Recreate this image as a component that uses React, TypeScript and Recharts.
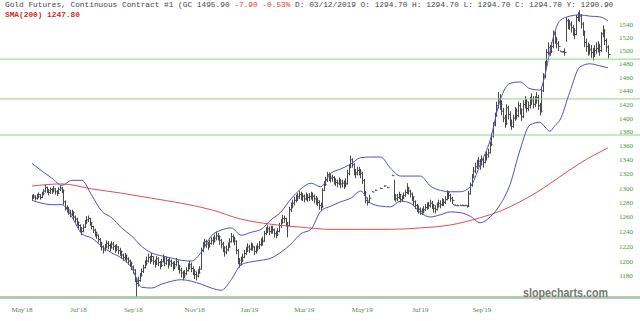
import { ComposedChart, XAxis, YAxis, Bar, Line, ReferenceLine } from "recharts";

// daily bars, index 0 = first bar on the chart (null = no bar that day)
const closes = [
  1287, 1289, 1286, 1288, 1291, 1287, 1292, 1296, 1301, 1297,
  1294, 1298, 1296, 1299, 1295, 1293, 1298, 1300, 1297, 1281,
  1273, 1270, 1268, 1264, 1266, 1260, 1257, 1252, 1248, 1244,
  1240, 1246, 1253, 1256, 1258, 1252, 1247, 1242, 1238, 1235,
  1229, 1224, 1219, 1215, 1219, 1224, 1221, 1218, 1223, 1220,
  1216, 1219, 1214, 1213, 1208, 1205, 1207, 1203, 1200, 1197,
  1192, 1188, 1176, 1170, 1174, 1181, 1186, 1191, 1197, 1200,
  1205, 1201, 1206, 1199, 1196, 1203, 1198, 1194, 1199, 1204,
  1197, 1201, 1195, 1200, 1197, 1192, 1195, 1199, 1193, 1188,
  1184, 1180, 1183, 1187, 1192, 1195, 1190, 1186, 1182, 1180,
  1184, 1189, 1214, 1222, 1226, 1223, 1220, 1224, 1228, 1227,
  1231, 1234, 1233, 1228, 1223, 1218, 1212, 1215, 1219, 1226,
  1233, 1230, 1227, 1214, 1201, 1196, 1200, 1205, 1210, 1214,
  1219, 1216, 1220, 1219, 1213, 1216, 1219, 1222, 1226, 1227,
  1237, 1241, 1244, 1240, 1243, 1242, 1237, 1236, 1240, 1248,
  1252, 1258, 1258, 1252, 1248, 1270, 1275, 1279, 1283, 1286,
  1288, 1291, 1289, 1288, 1285, 1289, 1287, 1288, 1290, 1288,
  1285, 1283, 1280, 1276, 1274, 1297, 1305, 1312, 1319, 1316,
  1314, 1315, 1311, 1308, 1307, 1310, 1306, 1307, 1305, 1307,
  1321, 1330, 1340, 1333, 1322, 1320, 1325, 1324, 1321, 1311,
  1294, 1283, 1280, 1286, null, 1295, null, 1297, null, null,
  1300, null, 1303, null, 1301, null, null, 1318, 1290, 1285,
  1287, 1291, 1284, 1286, 1290, 1294, 1300, 1296, 1292, 1288,
  1281, 1276, 1272, 1270, 1268, 1267, 1270, 1273, 1275, 1276,
  1279, 1276, 1272, 1270, 1275, 1279, 1277, 1281, 1280, 1284,
  1294, 1290, 1286, 1283, 1277, 1276, 1276, null, 1276, 1276,
  1276, 1276, 1275, 1292, 1304, 1316, 1324, 1330, 1335, 1338,
  1334, 1340, 1336, 1343, 1347, 1350, 1362, 1374, 1390, 1404,
  1418, 1428, 1420, 1410, 1400, 1392, 1415, 1405, 1394, 1388,
  1400, 1410, 1404, 1418, 1412, 1402, 1420, 1424, 1414, 1418,
  1425, 1428, 1420, 1426, 1430, 1418, 1410, 1440, 1462, 1478,
  1497, 1504, 1498, 1506, 1525, 1516, 1510, 1506, 1499, 1498,
  1498, 1497, 1545, 1538, 1540, 1535, 1530, 1524, 1550, 1553,
  1552, 1540, 1528, 1512, 1506, 1500, 1502, 1497, 1494, 1500,
  1503, 1506, 1500, 1525, 1530, 1515, 1505, 1494,
];

const highs = [
  1291, 1292, 1290, 1292, 1294, 1292, 1295, 1299, 1305, 1302,
  1299, 1301, 1300, 1303, 1300, 1297, 1301, 1304, 1302, 1298,
  1283, 1276, 1274, 1270, 1270, 1268, 1262, 1259, 1254, 1250,
  1246, 1250, 1256, 1261, 1262, 1259, 1253, 1248, 1244, 1240,
  1236, 1231, 1226, 1221, 1223, 1228, 1227, 1224, 1227, 1226,
  1222, 1223, 1220, 1218, 1214, 1210, 1211, 1209, 1205, 1202,
  1199, 1194, 1189, 1178, 1179, 1184, 1190, 1195, 1201, 1206,
  1210, 1207, 1211, 1207, 1202, 1207, 1205, 1200, 1203, 1209,
  1205, 1206, 1203, 1204, 1202, 1199, 1200, 1204, 1201, 1195,
  1191, 1187, 1188, 1192, 1197, 1200, 1198, 1193, 1189, 1186,
  1189, 1193, 1218, 1226, 1230, 1229, 1226, 1229, 1232, 1233,
  1236, 1240, 1238, 1235, 1230, 1226, 1220, 1221, 1225, 1231,
  1238, 1236, 1233, 1228, 1216, 1204, 1206, 1210, 1215, 1219,
  1224, 1222, 1225, 1224, 1220, 1221, 1224, 1227, 1231, 1233,
  1241, 1246, 1249, 1247, 1248, 1248, 1244, 1241, 1245, 1252,
  1257, 1263, 1262, 1259, 1253, 1274, 1280, 1284, 1288, 1291,
  1293, 1296, 1295, 1293, 1291, 1294, 1292, 1293, 1295, 1294,
  1291, 1289, 1287, 1283, 1280, 1300, 1310, 1316, 1323, 1322,
  1320, 1319, 1317, 1314, 1312, 1315, 1313, 1312, 1311, 1314,
  1326, 1334, 1346, 1342, 1335, 1327, 1330, 1330, 1327, 1323,
  1313, 1296, 1287, 1291, null, 1296, null, 1298, null, null,
  1301, null, 1304, null, 1302, null, null, 1319, 1312, 1292,
  1292, 1295, 1292, 1290, 1294, 1298, 1307, 1302, 1298, 1294,
  1288, 1283, 1278, 1276, 1273, 1272, 1275, 1278, 1280, 1281,
  1284, 1282, 1278, 1276, 1280, 1284, 1283, 1286, 1285, 1289,
  1297, 1296, 1292, 1288, 1278, 1277, 1277, null, 1277, 1277,
  1277, 1277, 1276, 1296, 1308, 1320, 1330, 1336, 1340, 1344,
  1341, 1346, 1343, 1349, 1352, 1356, 1366, 1378, 1394, 1408,
  1424, 1438, 1435, 1426, 1415, 1405, 1420, 1418, 1410, 1398,
  1405, 1416, 1414, 1424, 1422, 1414, 1426, 1432, 1428, 1424,
  1431, 1436, 1432, 1432, 1438, 1434, 1422, 1446, 1466, 1484,
  1502, 1512, 1508, 1512, 1530, 1529, 1520, 1514, 1500, 1499,
  1499, 1503, 1550, 1548, 1546, 1544, 1538, 1534, 1554, 1558,
  1561, 1555, 1543, 1530, 1518, 1512, 1510, 1508, 1504, 1508,
  1512, 1514, 1510, 1528, 1538, 1532, 1518, 1508,
];

const lows = [
  1283, 1285, 1283, 1284, 1286, 1284, 1286, 1290, 1294, 1293,
  1290, 1292, 1292, 1294, 1291, 1289, 1292, 1296, 1293, 1277,
  1269, 1266, 1263, 1260, 1261, 1256, 1252, 1248, 1243, 1239,
  1235, 1239, 1245, 1250, 1253, 1248, 1243, 1238, 1233, 1230,
  1225, 1219, 1214, 1210, 1213, 1217, 1216, 1213, 1217, 1215,
  1211, 1213, 1209, 1207, 1203, 1200, 1201, 1198, 1195, 1192,
  1188, 1183, 1172, 1152, 1166, 1172, 1179, 1184, 1190, 1194,
  1198, 1196, 1199, 1195, 1191, 1195, 1193, 1189, 1192, 1198,
  1193, 1195, 1190, 1194, 1192, 1187, 1189, 1193, 1188, 1183,
  1178, 1174, 1177, 1181, 1186, 1189, 1185, 1181, 1176, 1174,
  1178, 1183, 1189, 1212, 1219, 1218, 1215, 1218, 1222, 1222,
  1225, 1228, 1228, 1222, 1217, 1212, 1206, 1209, 1213, 1218,
  1225, 1225, 1221, 1209, 1196, 1191, 1194, 1199, 1204, 1208,
  1212, 1211, 1214, 1214, 1208, 1210, 1213, 1216, 1220, 1221,
  1226, 1235, 1238, 1235, 1237, 1237, 1232, 1231, 1234, 1239,
  1245, 1251, 1252, 1247, 1232, 1247, 1267, 1272, 1276, 1280,
  1282, 1285, 1283, 1282, 1280, 1283, 1281, 1282, 1284, 1282,
  1279, 1277, 1275, 1270, 1268, 1273, 1296, 1303, 1309, 1310,
  1308, 1309, 1305, 1303, 1301, 1304, 1300, 1301, 1299, 1301,
  1305, 1318, 1328, 1329, 1318, 1314, 1318, 1318, 1314, 1306,
  1289, 1279, 1276, 1279, null, 1295, null, 1296, null, null,
  1300, null, 1302, null, 1301, null, null, 1318, 1283, 1281,
  1282, 1285, 1280, 1281, 1285, 1288, 1292, 1291, 1287, 1282,
  1276, 1271, 1267, 1265, 1263, 1263, 1265, 1268, 1270, 1271,
  1273, 1271, 1266, 1265, 1269, 1273, 1272, 1275, 1275, 1278,
  1283, 1285, 1281, 1278, 1277, 1276, 1276, null, 1276, 1276,
  1276, 1276, 1273, 1274, 1291, 1302, 1314, 1321, 1327, 1330,
  1326, 1332, 1329, 1335, 1339, 1343, 1349, 1360, 1372, 1388,
  1402, 1414, 1412, 1404, 1394, 1386, 1390, 1398, 1388, 1383,
  1386, 1396, 1398, 1401, 1405, 1396, 1400, 1414, 1408, 1410,
  1414, 1419, 1414, 1416, 1421, 1412, 1404, 1408, 1438, 1458,
  1476, 1493, 1492, 1496, 1503, 1510, 1503, 1499, 1499, 1498,
  1498, 1492, 1513, 1532, 1531, 1527, 1522, 1517, 1523, 1544,
  1543, 1533, 1522, 1505, 1498, 1492, 1494, 1489, 1485, 1490,
  1495, 1497, 1492, 1498, 1520, 1508, 1498, 1488,
];

// Bollinger bands, read every 6 bars
const bandIdx = [
  0, 6, 12, 18, 24, 30, 36, 42, 48, 54, 60, 66, 72, 78, 84, 90, 96, 102, 108, 114,
  120, 126, 132, 138, 144, 150, 156, 162, 168, 174, 180, 186, 192, 198, 204, 210, 216, 222, 228, 234,
  240, 246, 252, 258, 264, 270, 276, 282, 288, 294, 300, 306, 309, 312, 315, 318, 324, 330, 336, 342, 347,
];
const upperBand = [
  1335, 1324, 1314, 1304, 1311, 1311, 1290, 1268, 1259, 1245, 1234, 1220, 1211, 1207, 1204, 1201, 1200, 1212, 1234, 1242,
  1245, 1235, 1239, 1243, 1256, 1267, 1285, 1299, 1307, 1302, 1321, 1327, 1334, 1343, 1344, 1344, 1328, 1317, 1317, 1317,
  1303, 1297, 1295, 1295, 1302, 1333, 1368, 1426, 1451, 1453, 1443, 1441, 1463, 1498, 1528, 1545, 1552, 1554, 1552, 1551, 1545,
];
const lowerBand = [
  1283, 1279, 1277, 1277, 1260, 1237, 1231, 1220, 1211, 1204, 1191, 1165, 1164, 1169, 1173, 1175, 1173, 1169, 1164, 1161,
  1175, 1195, 1199, 1201, 1204, 1212, 1223, 1237, 1243, 1268, 1275, 1281, 1286, 1296, 1279, 1275, 1274, 1282, 1279, 1266,
  1260, 1263, 1267, 1266, 1261, 1252, 1260, 1277, 1305, 1354, 1390, 1394, 1387, 1381, 1389, 1397, 1438, 1475, 1480, 1477, 1474,
];

const smaIdx = [0, 18, 36, 54, 72, 90, 108, 126, 144, 162, 180, 198, 216, 234, 252, 270, 282, 294, 306, 318, 330, 347];
const sma200 = [1303, 1306, 1299, 1293, 1286, 1279, 1270, 1257, 1250, 1246, 1243, 1243, 1243, 1245, 1249, 1259, 1268, 1281, 1297, 1316, 1335, 1357];

const levels = [1487, 1428, 1375.5, 1152.5];

const yTicks = [1180, 1200, 1220, 1240, 1260, 1280, 1300, 1320, 1340, 1360, 1380, 1400, 1420, 1440, 1460, 1480, 1500, 1520, 1540];
const monthIdx = [-6, 28, 61, 98, 131, 164, 199, 234, 271];
const monthLabels = ["May'18", "Jul'18", "Sep'18", "Nov'18", "Jan'19", "Mar'19", "May'19", "Jul'19", "Sep'19"];

const bars = closes
  .map((c, i) => ({ x: i, c, h: highs[i], l: lows[i] }))
  .filter((r) => r.c != null)
  .map((r) => ({ ...r, hl: [r.l, r.h] }));

const bandRows = bandIdx.map((x, k) => ({ x, up: upperBand[k], lo: lowerBand[k] }));
const smaRows = smaIdx.map((x, k) => ({ x, sma: sma200[k] }));

function OhlcBar(props: any) {
  const { x, y, width, height, payload } = props;
  if (x == null || y == null || !payload) return null;
  const top = Math.min(y, y + height);
  const bot = Math.max(y, y + height, top + 1);
  const cx = Math.round(x + width / 2) + 0.5;
  const span = payload.h - payload.l;
  const yc = span > 0 ? top + ((payload.h - payload.c) / span) * (bot - top) : top;
  return (
    <g>
      <line x1={cx} x2={cx} y1={top} y2={bot} stroke="#4a4a4a" strokeWidth={1} />
      <line x1={cx} x2={cx + 2} y1={yc} y2={yc} stroke="#4a4a4a" strokeWidth={1} />
    </g>
  );
}

function YTick({ y, payload }: any) {
  return (
    <text x={626} y={y + 2.5} textAnchor="middle" fontSize={7} fontFamily='"Liberation Serif", serif' fill="#3c983c">
      {payload.value}
    </text>
  );
}

function XTick({ x, payload }: any) {
  const k = monthIdx.indexOf(payload.value);
  return (
    <text x={x} y={312} textAnchor="middle" fontSize={7} fontFamily='"Liberation Serif", serif' fill="#5a7f5a">
      {k >= 0 ? monthLabels[k] : ""}
    </text>
  );
}

export default function App() {
  return (
    <div style={{ position: "relative", width: 640, height: 321, background: "#fff" }}>
      <style>{"body{margin:0}"}</style>
      <ComposedChart width={640} height={321} data={bars} margin={{ top: 0, right: 0, bottom: 0, left: 0 }}>
        <XAxis
          type="number"
          dataKey="x"
          domain={[-19.3, 366.3]}
          allowDataOverflow
          ticks={monthIdx}
          interval={0}
          height={23}
          tick={<XTick />}
          tickLine={false}
          axisLine={{ stroke: "#8a8a8a" }}
        />
        <YAxis
          orientation="right"
          mirror
          scale="sqrt"
          domain={[1150.8, 1576.8]}
          allowDataOverflow
          ticks={yTicks}
          interval={0}
          tick={<YTick />}
          tickLine={false}
          axisLine={false}
        />
        {levels.map((v) => (
          <ReferenceLine key={v} y={v} stroke="#8ad68a" strokeWidth={1} />
        ))}
        <Line data={smaRows} dataKey="sma" type="monotone" stroke="#e05050" strokeWidth={1} dot={false} isAnimationActive={false} />
        <Line data={bandRows} dataKey="up" type="monotone" stroke="#5050c6" strokeWidth={1} dot={false} isAnimationActive={false} />
        <Line data={bandRows} dataKey="lo" type="monotone" stroke="#5050c6" strokeWidth={1} dot={false} isAnimationActive={false} />
        <Bar dataKey="hl" barSize={1} shape={<OhlcBar />} isAnimationActive={false} />
      </ComposedChart>
      <div
        style={{
          position: "absolute",
          left: 5,
          top: 1,
          font: '7.8px "Liberation Mono", monospace',
          lineHeight: "9.6px",
          color: "#454545",
          whiteSpace: "pre",
        }}
      >
        {"Gold Futures, Continuous Contract #1 (GC 1495.90 "}
        <span style={{ color: "#e03c3c" }}>{"-7.90 -0.53%"}</span>
        {" D: 03/12/2019 O: 1294.70 H: 1294.70 L: 1294.70 C: 1294.70 Y: 1290.90"}
        <br />
        <span style={{ color: "#d42a2a", fontWeight: "bold" }}>SMA(200) 1247.80</span>
      </div>
      <svg style={{ position: "absolute", left: 0, top: 0 }} width={640} height={321}>
        <text
          x={523}
          y={297}
          textLength={85}
          lengthAdjust="spacingAndGlyphs"
          fontSize={12}
          fontWeight="bold"
          fontFamily='"Liberation Sans", sans-serif'
          fill="#777"
        >
          slopecharts.com
        </text>
      </svg>
    </div>
  );
}
